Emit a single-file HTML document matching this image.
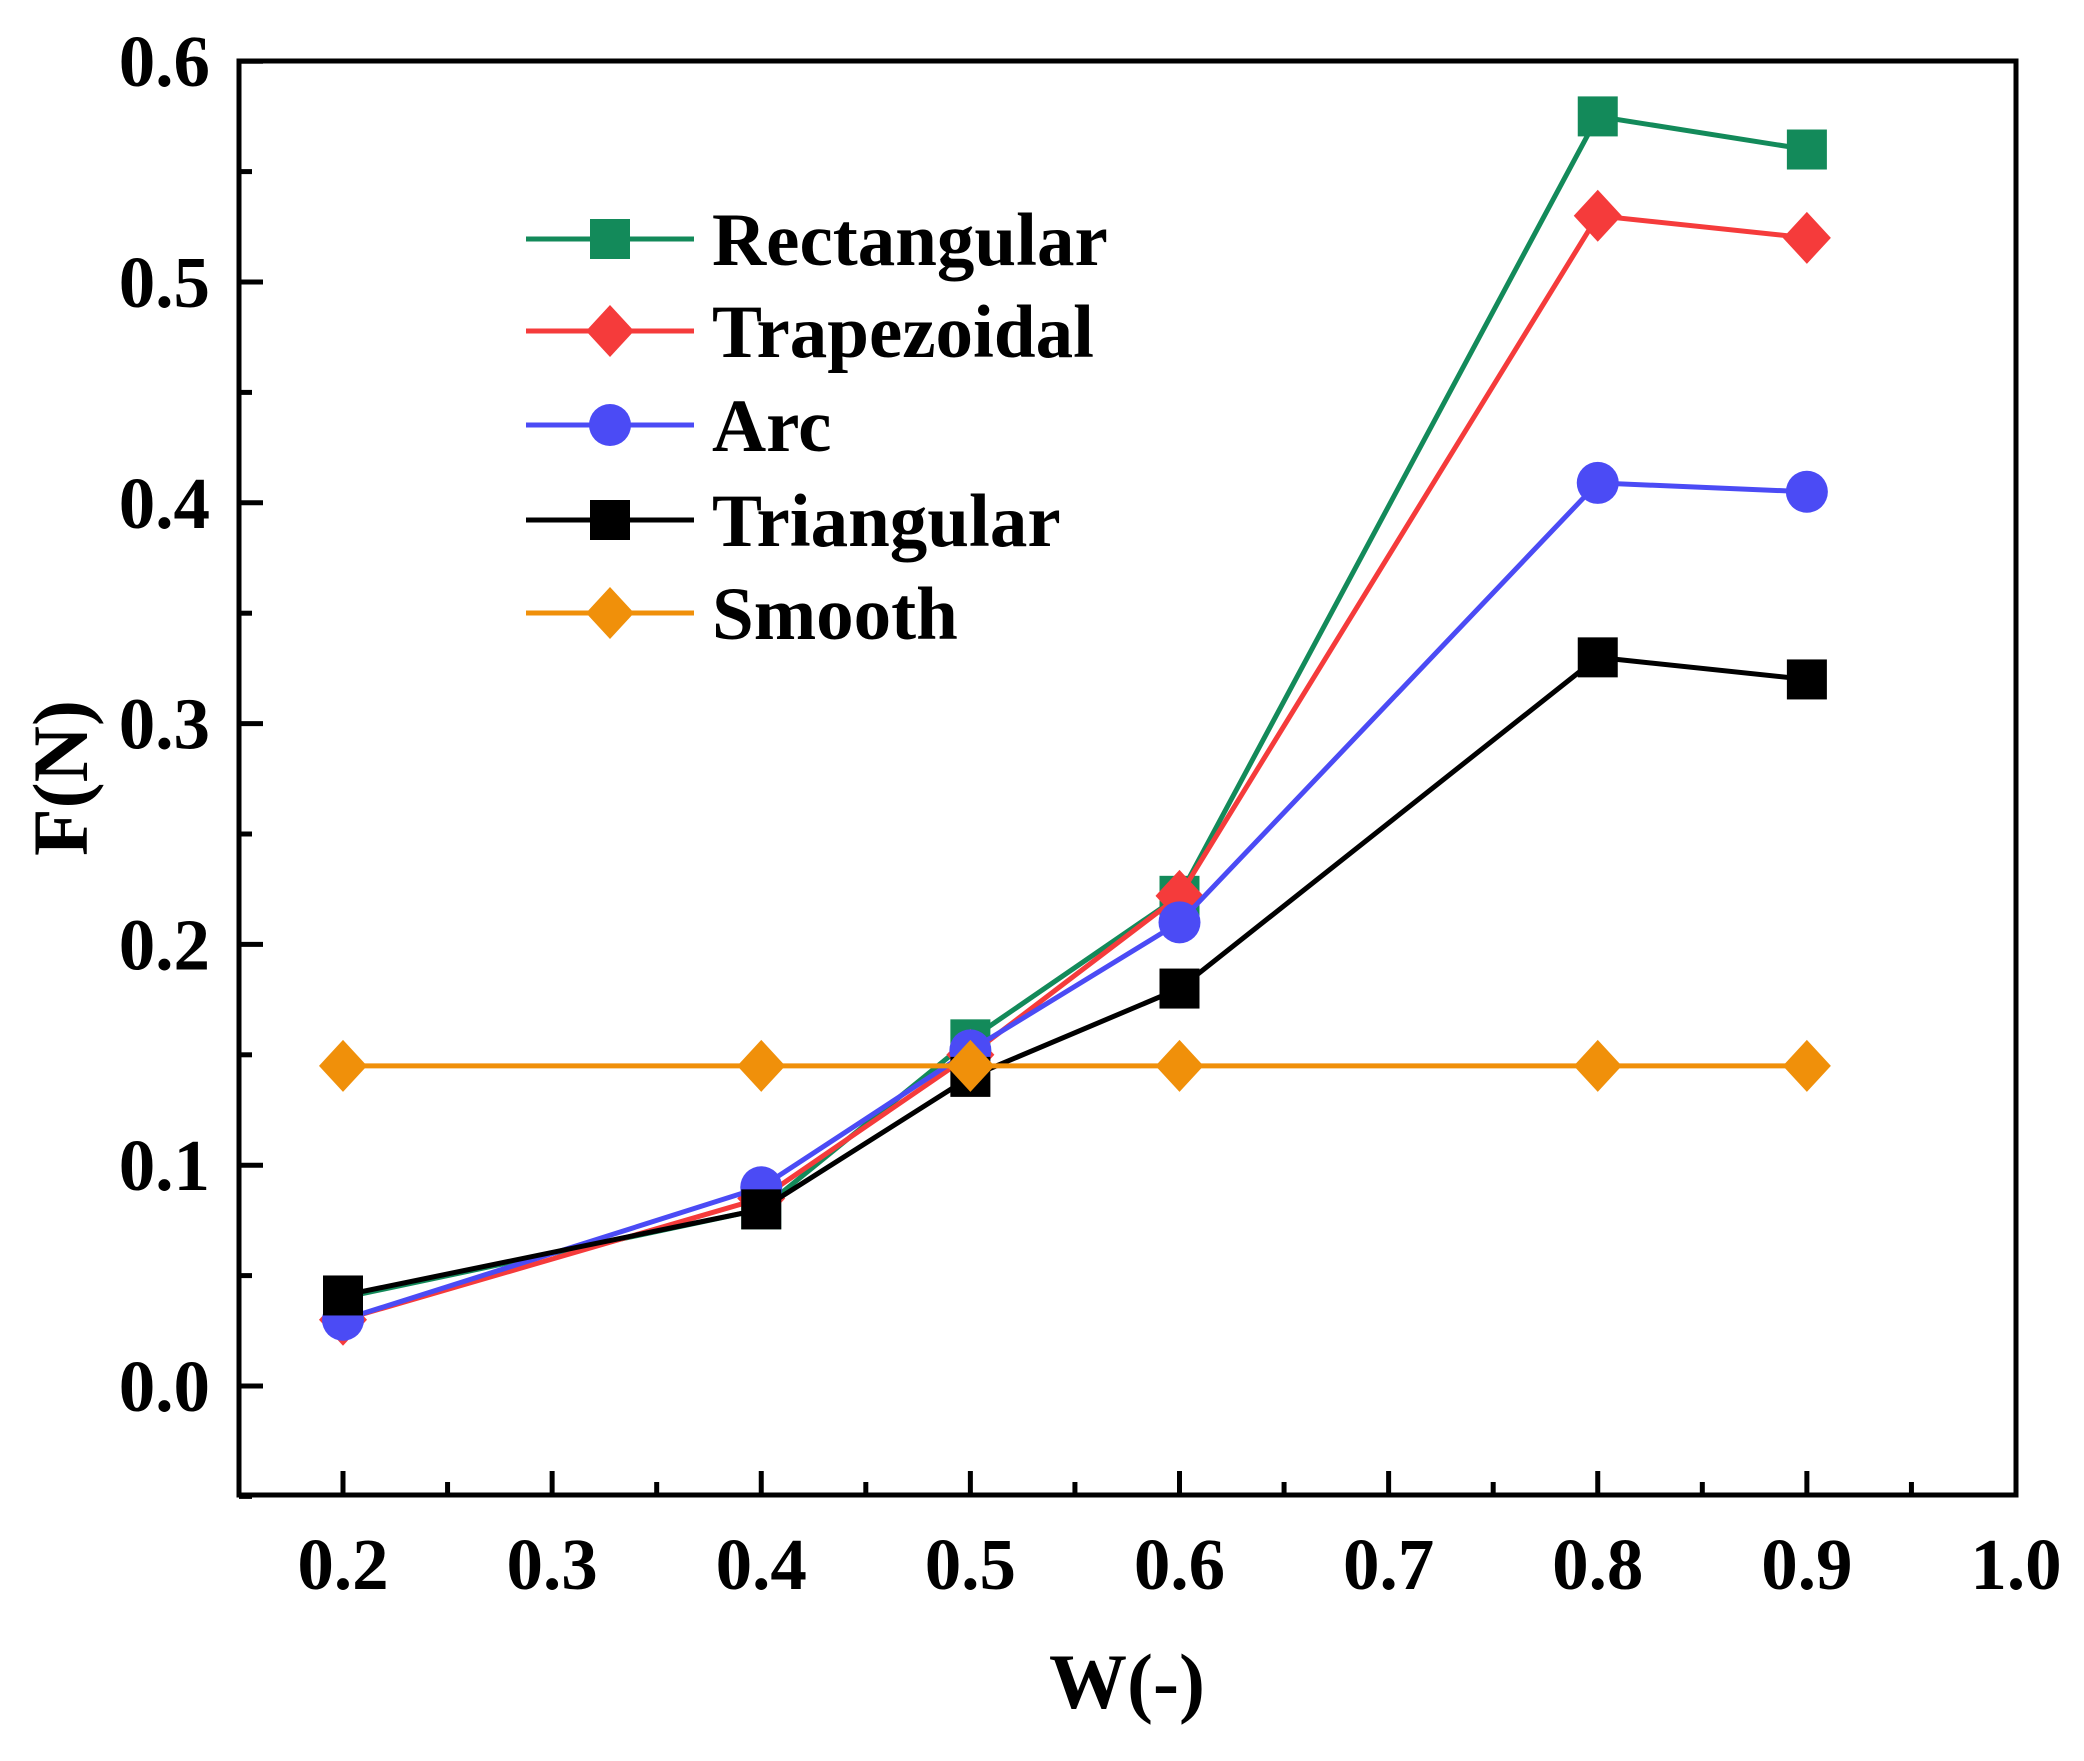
<!DOCTYPE html>
<html><head><meta charset="utf-8"><style>
html,body{margin:0;padding:0;background:#fff;}
svg{display:block;}
text{font-family:"Liberation Serif",serif;font-weight:bold;fill:#000;}
</style></head><body>
<svg id="chart" width="2084" height="1761" viewBox="0 0 2084 1761"></svg>
<script>
const categories = [0.2, 0.4, 0.5, 0.6, 0.8, 0.9];
const seriesNames = ["Rectangular", "Trapezoidal", "Arc", "Triangular", "Smooth"];
const rectangularValues = [0.040, 0.080, 0.157, 0.222, 0.575, 0.560];
const trapezoidalValues = [0.030, 0.085, 0.150, 0.222, 0.530, 0.520];
const arcValues = [0.030, 0.090, 0.152, 0.210, 0.409, 0.405];
const triangularValues = [0.041, 0.080, 0.140, 0.180, 0.330, 0.320];
const smoothValues = [0.145, 0.145, 0.145, 0.145, 0.145, 0.145];
const xTickLabels = ["0.2", "0.3", "0.4", "0.5", "0.6", "0.7", "0.8", "0.9", "1.0"];
const yTickLabels = ["0.0", "0.1", "0.2", "0.3", "0.4", "0.5", "0.6"];

const NS = "http://www.w3.org/2000/svg";
const svg = document.getElementById("chart");
const L = 239, R = 2016, T = 61, B = 1495;
function xs(v){ return 343 + (v - 0.2) * 2091.25; }
function ys(v){ return 1386 - v * 2208; }
function mk(tag, attrs, parent){
  const e = document.createElementNS(NS, tag);
  for (const k in attrs) e.setAttribute(k, attrs[k]);
  (parent || svg).appendChild(e);
  return e;
}
const colors = ["#138a5a", "#f53b3b", "#4b4bf5", "#000000", "#f0900a"];
const shapes = ["square", "diamond", "circle", "square", "diamond"];
const allValues = [rectangularValues, trapezoidalValues, arcValues, triangularValues, smoothValues];

function marker(shape, cx, cy, color, parent){
  let e;
  if (shape === "square") e = mk("rect", {x: cx - 20, y: cy - 20, width: 40, height: 40, fill: color}, parent);
  else if (shape === "circle") e = mk("circle", {cx: cx, cy: cy, r: 21, fill: color}, parent);
  else e = mk("polygon", {points: `${cx},${cy-26} ${cx+24},${cy} ${cx},${cy+26} ${cx-24},${cy}`, fill: color}, parent);
  return e;
}

const frame = mk("rect", {x: L, y: T, width: R - L, height: B - T, fill: "none", stroke: "#000", "stroke-width": 5});



for (let i = 0; i < xTickLabels.length; i++) {
  const v = parseFloat(xTickLabels[i]);
  const x = xs(v);
  const t = mk("line", {x1: x, x2: x, y1: B, y2: B - 24, stroke: "#000", "stroke-width": 5});
  
  
  if (i < xTickLabels.length - 1) {
    const xm = xs(v + 0.05);
    const m = mk("line", {x1: xm, x2: xm, y1: B, y2: B - 13, stroke: "#000", "stroke-width": 5});
    
    
  }
  const lb = mk("text", {x: x, y: 1589, "font-size": 73, "text-anchor": "middle"});
  lb.textContent = xTickLabels[i];
  
  
}
for (let i = 0; i < yTickLabels.length; i++) {
  const v = parseFloat(yTickLabels[i]);
  const y = ys(v);
  const t = mk("line", {x1: L, x2: L + 24, y1: y, y2: y, stroke: "#000", "stroke-width": 5});
  
  
  const ym = ys(v - 0.05);
  const m = mk("line", {x1: L, x2: L + 13, y1: ym, y2: ym, stroke: "#000", "stroke-width": 5});
  
  
  const lb = mk("text", {x: 210, y: y + 25, "font-size": 73, "text-anchor": "end"});
  lb.textContent = yTickLabels[i];
  
  
}
const xt = mk("text", {x: 1127, y: 1708, "font-size": 78, "text-anchor": "middle"});
xt.textContent = "W(-)";


const yt = mk("text", {x: 0, y: 0, "font-size": 78, "text-anchor": "middle", transform: "translate(87,778) rotate(-90)"});
yt.textContent = "F(N)";



for (let s = 0; s < allValues.length; s++) {
  const g = mk("g", {});
  
  
  const pts = categories.map((c, i) => xs(c) + "," + ys(allValues[s][i])).join(" ");
  const pl = mk("polyline", {points: pts, fill: "none", stroke: colors[s], "stroke-width": 5}, g);
  
  
  for (let i = 0; i < categories.length; i++) {
    const m = marker(shapes[s], xs(categories[i]), ys(allValues[s][i]), colors[s], g);
    
    
  }
}

const legendY = [239, 331, 425, 520, 613];
const lg = mk("g", {});


for (let s = 0; s < seriesNames.length; s++) {
  const y = legendY[s];
  const e = mk("g", {}, lg);
  
  
  mk("line", {x1: 526, x2: 694, y1: y, y2: y, stroke: colors[s], "stroke-width": 5}, e);
  marker(shapes[s], 610, y, colors[s], e);
  const t = mk("text", {x: 712, y: y + 26, "font-size": 75}, e);
  t.textContent = seriesNames[s];
}
</script>
</body></html>
